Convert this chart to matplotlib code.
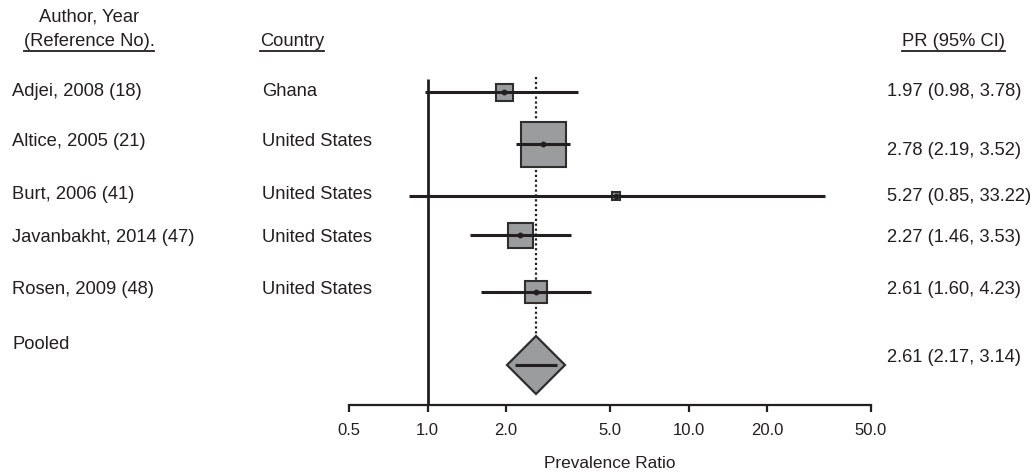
import matplotlib
matplotlib.use('Agg')
import matplotlib.pyplot as plt
from matplotlib.lines import Line2D
from matplotlib.ticker import NullLocator
from matplotlib.transforms import blended_transform_factory

plt.rcParams['font.family'] = ['Liberation Sans', 'DejaVu Sans']

# data
authors = ['Adjei, 2008 (18)', 'Altice, 2005 (21)', 'Burt, 2006 (41)',
           'Javanbakht, 2014 (47)', 'Rosen, 2009 (48)']
countries = ['Ghana', 'United States', 'United States', 'United States', 'United States']
pr = [1.97, 2.78, 5.27, 2.27, 2.61]
lo = [0.98, 2.19, 0.85, 1.46, 1.60]
hi = [3.78, 3.52, 33.22, 3.53, 4.23]
box_px = [19, 47, 10, 27, 25]   # study weight box, side in px
pooled_pr, pooled_lo, pooled_hi = 2.61, 2.17, 3.14
ticks = [0.5, 1, 2, 5, 10, 20, 50]
tick_labels = ['0.5', '1.0', '2.0', '5.0', '10.0', '20.0', '50.0']

# vertical positions (px from top, the y axis uses these units)
row_y = [92, 144, 196, 235, 292]
text_y = [92, 142, 195, 238, 290]
pr_y = [92, 151, 197, 238, 290]
pooled_y, pooled_text_y, pooled_pr_y = 365, 345, 358

W, H = 1035, 474
dark = '#231f20'
grey = '#9b9c9e'

fig = plt.figure(figsize=(W / 100, H / 100), dpi=100)
ax = fig.add_axes([349 / W, (H - 405) / H, 522 / W, 345 / H])
ax.set_xscale('log')
ax.set_xlim(0.5, 50)
ax.set_ylim(405, 60)
for s in ['top', 'right', 'left']:
    ax.spines[s].set_visible(False)
ax.spines['bottom'].set_linewidth(1.6)
ax.spines['bottom'].set_color(dark)
ax.set_xticks(ticks)
ax.set_xticklabels(tick_labels)
ax.xaxis.set_minor_locator(NullLocator())
ax.set_yticks([])
ax.tick_params(axis='x', length=5, width=1.6, color=dark, pad=8, labelsize=12, labelcolor=dark)
ax.set_xlabel('Prevalence Ratio', fontsize=12.4, color=dark, labelpad=13)

# reference line at 1 and pooled dotted line
ax.vlines(1, 79, 405, color=dark, lw=2)
ax.vlines(pooled_pr, 77, 334, color=dark, lw=1.6, linestyles=(0, (1, 1.2)))

# studies
for i in range(len(pr)):
    ax.plot(pr[i], row_y[i], marker='s', ms=(box_px[i] - 2) * 0.72, mfc=grey, mec='#2e2e2e',
            mew=1.5, ls='none', zorder=3)
    ax.plot([lo[i], hi[i]], [row_y[i], row_y[i]], color=dark, lw=2.2, solid_capstyle='butt', zorder=4)
    ax.plot(pr[i], row_y[i], marker='o', ms=3.2, color=dark, ls='none', zorder=5)

# pooled diamond
ax.plot(pooled_pr, pooled_y, marker='D', ms=29.5, mfc=grey, mec='#2e2e2e', mew=1.6,
        ls='none', zorder=3)
ax.plot([pooled_lo, pooled_hi], [pooled_y, pooled_y], color=dark, lw=2.2,
        solid_capstyle='butt', zorder=4)

# table text
tr = blended_transform_factory(fig.transFigure, ax.transData)
fs = 13.2
kw = dict(transform=tr, fontsize=fs, color=dark, va='center', clip_on=False)
ax.text(89 / W, 17, 'Author, Year', ha='center', **kw)
h1 = ax.text(89 / W, 42, '(Reference No).', ha='center', **kw)
h2 = ax.text(260 / W, 42, 'Country', ha='left', **kw)
h3 = ax.text(1005 / W, 42, 'PR (95% CI)', ha='right', **kw)

for i in range(len(authors)):
    ax.text(12 / W, text_y[i], authors[i], ha='left', **kw)
    ax.text(262 / W, text_y[i], countries[i], ha='left', **kw)
    ax.text(887 / W, pr_y[i], '%.2f (%.2f, %.2f)' % (pr[i], lo[i], hi[i]), ha='left', **kw)
ax.text(12 / W, pooled_text_y, 'Pooled', ha='left', **kw)
ax.text(887 / W, pooled_pr_y, '%.2f (%.2f, %.2f)' % (pooled_pr, pooled_lo, pooled_hi), ha='left', **kw)

# underline the headers
fig.canvas.draw()
r = fig.canvas.get_renderer()
inv = fig.transFigure.inverted()
for t in [h1, h2, h3]:
    bb = t.get_window_extent(r)
    (x0, y0), (x1, _) = inv.transform([(bb.x0, bb.y0 - 0.5), (bb.x1, bb.y0)])
    fig.add_artist(Line2D([x0, x1], [y0, y0], transform=fig.transFigure, color=dark, lw=1.3))

fig.savefig('out.png', dpi=100)
